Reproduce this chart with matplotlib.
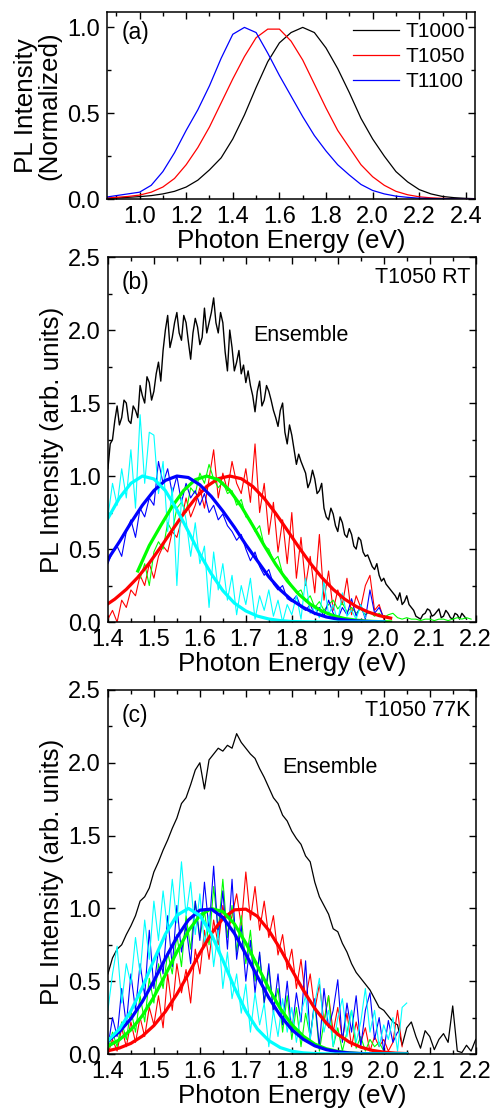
import numpy as np
import matplotlib
matplotlib.use('Agg')
import matplotlib.pyplot as plt
from matplotlib.ticker import MultipleLocator

plt.rcParams['font.family'] = 'Liberation Sans'

# ---- panel (a): normalized PL, sampled every 0.05 eV from 0.85 eV
a_start, a_step = 0.85, 0.05
a_t1000 = [0.003, 0.006, 0.01, 0.014, 0.02, 0.03, 0.045, 0.07, 0.11, 0.17, 0.24, 0.35, 0.49,
           0.65, 0.80, 0.91, 0.97, 1.0, 0.97, 0.88, 0.76, 0.62, 0.47, 0.35, 0.25, 0.16, 0.10,
           0.055, 0.03, 0.015, 0.008, 0.004, 0.002]
a_t1050 = [0.005, 0.01, 0.015, 0.023, 0.04, 0.07, 0.12, 0.20, 0.30, 0.42, 0.56, 0.70, 0.83,
           0.94, 0.99, 0.99, 0.92, 0.81, 0.67, 0.53, 0.40, 0.30, 0.20, 0.13, 0.08, 0.045, 0.025,
           0.013, 0.007, 0.004, 0.002, 0.001, 0.0]
a_t1100 = [0.01, 0.02, 0.03, 0.04, 0.08, 0.16, 0.27, 0.40, 0.52, 0.66, 0.82, 0.96, 1.0, 0.97,
           0.85, 0.72, 0.60, 0.48, 0.37, 0.28, 0.20, 0.14, 0.085, 0.05, 0.03, 0.017, 0.01,
           0.005, 0.003, 0.002, 0.001, 0.0, 0.0]
a_labels = ['T1000', 'T1050', 'T1100']

# ---- panel (b): T1050 RT
# ensemble sampled every 0.005 eV, single dots every 0.01 eV
b_black_start, b_black_step = 1.40, 0.005
b_black = [1.05, 1.22, 1.25, 1.38, 1.48, 1.35, 1.40, 1.52, 1.50, 1.38, 1.36, 1.48, 1.45, 1.40,
           1.62, 1.55, 1.50, 1.68, 1.64, 1.52, 1.58, 1.70, 1.78, 1.65, 1.86, 2.00, 2.10, 1.88,
           1.95, 2.05, 2.12, 1.98, 1.93, 2.10, 2.05, 1.92, 1.80, 1.98, 2.08, 2.02, 1.90, 1.95,
           2.15, 1.98, 2.05, 2.12, 2.22, 2.05, 1.98, 2.12, 2.05, 1.85, 1.72, 2.00, 1.88, 1.72,
           1.78, 1.86, 1.70, 1.76, 1.64, 1.72, 1.62, 1.55, 1.44, 1.58, 1.65, 1.48, 1.52, 1.62,
           1.58, 1.52, 1.45, 1.40, 1.34, 1.45, 1.50, 1.30, 1.22, 1.35, 1.28, 1.18, 1.08, 1.15,
           1.10, 1.06, 1.02, 0.92, 0.96, 1.04, 0.98, 0.88, 0.90, 0.95, 0.78, 0.72, 0.70, 0.78,
           0.74, 0.66, 0.62, 0.72, 0.68, 0.60, 0.58, 0.64, 0.60, 0.52, 0.50, 0.58, 0.56, 0.48,
           0.45, 0.46, 0.42, 0.38, 0.36, 0.40, 0.32, 0.28, 0.30, 0.26, 0.24, 0.22, 0.20, 0.18,
           0.15, 0.20, 0.12, 0.14, 0.18, 0.12, 0.10, 0.08, 0.04, 0.03, 0.02, 0.05, 0.06, 0.09,
           0.08, 0.04, 0.05, 0.07, 0.09, 0.03, 0.04, 0.08, 0.06, 0.03, 0.02, 0.06, 0.05, 0.02,
           0.06, 0.04, 0.02]
b_cyan_start = 1.40
b_cyan = [0.72, 0.95, 0.80, 1.05, 0.85, 1.18, 0.78, 1.42, 0.95, 1.30, 1.28, 0.88, 1.10, 0.62,
          0.92, 0.25, 0.85, 0.70, 0.45, 0.68, 0.40, 0.52, 0.10, 0.48, 0.22, 0.40, 0.15, 0.32,
          0.05, 0.25, 0.12, 0.30, 0.02, 0.18, 0.08, 0.22, 0.04, 0.15, 0.00, 0.12, 0.05, 0.18,
          0.02, 0.30, 0.06, 0.10, 0.03, 0.28, 0.05, 0.12, 0.00, 0.20, 0.04, 0.08, 0.02, 0.12,
          0.03]
b_blue_start = 1.40
b_blue = [0.40, 0.48, 0.52, 0.45, 0.62, 0.70, 0.58, 0.78, 0.72, 0.85, 0.80, 1.10, 0.95, 1.05,
          0.88, 1.00, 0.82, 0.95, 0.85, 0.90, 0.80, 0.88, 0.75, 0.80, 0.70, 0.74, 0.66, 0.62,
          0.56, 0.60, 0.50, 0.42, 0.48, 0.38, 0.32, 0.36, 0.26, 0.22, 0.25, 0.16, 0.14, 0.18,
          0.10, 0.08, 0.12, 0.05, 0.10, 0.04, 0.15, 0.06, 0.02, 0.10, 0.05, 0.16, 0.04, 0.12,
          0.02, 0.22, 0.06, 0.10, 0.03]
b_green_start = 1.47
b_green = [0.30, 0.40, 0.25, 0.48, 0.55, 0.50, 0.68, 0.62, 0.78, 0.82, 0.75, 0.92, 0.88, 1.02,
           0.95, 1.08, 0.98, 0.92, 0.96, 0.88, 0.90, 0.80, 0.84, 0.72, 0.70, 0.62, 0.66, 0.52,
           0.50, 0.42, 0.45, 0.33, 0.30, 0.25, 0.20, 0.22, 0.14, 0.18, 0.10, 0.14, 0.08, 0.12,
           0.15, 0.09, 0.13, 0.07, 0.10, 0.06, 0.09, 0.05, 0.07, 0.04, 0.06, 0.03, 0.05, 0.06,
           0.03, 0.02, 0.03, 0.02, 0.02, 0.01, 0.02, 0.02, 0.01, 0.02, 0.02, 0.01, 0.02, 0.03,
           0.02, 0.03, 0.02]
b_red_start = 1.40
b_red = [0.02, 0.08, 0.00, 0.15, 0.10, 0.22, 0.18, 0.32, 0.25, 0.40, 0.30, 0.45, 0.52, 0.48,
         0.62, 0.58, 0.70, 0.85, 0.72, 0.80, 0.92, 0.78, 0.98, 1.18, 0.85, 1.02, 0.90, 1.10,
         0.95, 0.88, 1.05, 0.82, 1.22, 0.75, 0.95, 0.60, 0.82, 0.48, 0.70, 0.40, 0.75, 0.30,
         0.58, 0.25, 0.45, 0.20, 0.60, 0.15, 0.35, 0.08, 0.22, 0.12, 0.30, 0.05, 0.18, 0.10,
         0.25, 0.32, 0.08, 0.12, 0.02]

# gaussian fits (b), read every 0.025 eV
b_fit_cyan_e = [1.40 + 0.025 * i for i in range(25)]
b_fit_cyan = [0.71, 0.85, 0.95, 1.0, 0.98, 0.90, 0.77, 0.62, 0.465, 0.33, 0.215, 0.13, 0.076,
              0.041, 0.021, 0.010, 0.004, 0.002, 0.001, 0, 0, 0, 0, 0, 0]
b_fit_blue_e = [1.40 + 0.025 * i for i in range(25)]
b_fit_blue = [0.43, 0.55, 0.68, 0.80, 0.90, 0.97, 1.0, 0.99, 0.94, 0.86, 0.76, 0.65, 0.53,
              0.42, 0.31, 0.22, 0.15, 0.10, 0.06, 0.035, 0.02, 0.011, 0.006, 0.003, 0.001]
b_fit_green_e = [1.465 + 0.025 * i for i in range(23)]
b_fit_green = [0.35, 0.524, 0.661, 0.793, 0.902, 0.975, 1.0, 0.975, 0.902, 0.793, 0.661, 0.524,
               0.395, 0.282, 0.191, 0.123, 0.076, 0.044, 0.024, 0.013, 0.006, 0.003, 0.001]
b_fit_red_e = [1.40] + [1.415 + 0.025 * i for i in range(25)]
b_fit_red = [0.125, 0.157, 0.224, 0.306, 0.404, 0.514, 0.630, 0.744, 0.847, 0.929, 0.982, 1.0,
             0.982, 0.929, 0.847, 0.744, 0.630, 0.514, 0.404, 0.306, 0.224, 0.157, 0.107,
             0.070, 0.044, 0.027]

# ---- panel (c): T1050 77K
c_black_start = 1.40
c_black = [0.55, 0.66, 0.72, 0.75, 0.82, 0.88, 0.95, 1.05, 1.08, 1.14, 1.25, 1.32, 1.40, 1.47,
           1.55, 1.62, 1.72, 1.76, 1.85, 1.95, 2.00, 1.82, 2.02, 2.06, 2.10, 2.08, 2.12, 2.10,
           2.20, 2.14, 2.10, 2.06, 2.03, 1.96, 1.90, 1.83, 1.76, 1.72, 1.64, 1.60, 1.53, 1.48,
           1.44, 1.36, 1.32, 1.18, 1.08, 1.02, 0.96, 0.86, 0.84, 0.76, 0.70, 0.62, 0.56, 0.52,
           0.48, 0.44, 0.38, 0.32, 0.30, 0.26, 0.22, 0.20, 0.06, 0.18, 0.22, 0.12, 0.04, 0.16,
           0.12, 0.03, 0.10, 0.14, 0.08, 0.33, 0.02, 0.01, 0.06, 0.02, 0.10]
c_cyan_start = 1.40
c_cyan = [0.30, 0.55, 0.74, 0.35, 0.62, 0.48, 0.80, 0.55, 0.92, 0.65, 1.05, 0.78, 1.12, 0.85,
          1.20, 0.90, 1.32, 0.95, 1.18, 0.82, 1.10, 0.75, 0.95, 0.60, 0.85, 0.45, 0.70, 0.38,
          0.55, 0.28, 0.48, 0.15, 0.42, 0.20, 0.35, 0.05, 0.30, 0.12, 0.38, 0.15, 0.32, 0.08,
          0.28, 0.40, 0.10, 0.35, 0.52, 0.15, 0.30, 0.05, 0.25, 0.38, 0.12, 0.30, 0.08, 0.22,
          0.45, 0.15, 0.30, 0.05, 0.20, 0.10, 0.25, 0.02, 0.32, 0.35]
c_blue_start = 1.40
c_blue = [0.05, 0.25, 0.12, 0.45, 0.20, 0.55, 0.30, 0.62, 0.40, 0.85, 0.45, 0.72, 0.55, 0.95,
          0.60, 1.02, 0.70, 0.88, 0.62, 1.05, 0.78, 1.18, 0.85, 1.29, 0.80, 1.12, 0.72, 1.20,
          0.65, 0.88, 0.50, 0.78, 0.42, 0.70, 0.35, 0.62, 0.28, 0.55, 0.20, 0.50, 0.15, 0.42,
          0.22, 0.64, 0.10, 0.38, 0.05, 0.45, 0.18, 0.30, 0.51, 0.08, 0.35, 0.15, 0.40, 0.05,
          0.30, 0.42, 0.10, 0.25, 0.02, 0.23, 0.08, 0.15]
c_green_start = 1.40
c_green = [0.02, 0.15, 0.05, 0.22, 0.10, 0.30, 0.15, 0.40, 0.22, 0.52, 0.35, 0.62, 0.45, 0.70,
           0.55, 0.82, 0.60, 0.95, 0.72, 1.05, 0.80, 0.98, 0.75, 1.15, 0.85, 1.20, 0.80, 1.02,
           0.70, 0.95, 0.62, 0.85, 0.50, 0.68, 0.35, 0.58, 0.30, 0.45, 0.15, 0.40, 0.10, 0.32,
           0.05, 0.28, 0.12, 0.35, 0.02, 0.22, 0.40, 0.05, 0.18, 0.02, 0.15, 0.30, 0.04, 0.12,
           0.02, 0.10, 0.05, 0.08, 0.02]
c_red_start = 1.40
c_red = [0.00, 0.10, 0.02, 0.18, 0.05, 0.22, 0.08, 0.25, 0.12, 0.32, 0.20, 0.40, 0.18, 0.55,
         0.30, 0.62, 0.42, 0.58, 0.35, 0.72, 0.55, 0.85, 0.65, 0.92, 0.75, 1.02, 0.82, 0.95,
         1.10, 0.88, 1.25, 0.92, 1.15, 0.85, 1.05, 0.80, 0.95, 0.68, 0.82, 0.58, 0.72, 0.45,
         0.65, 0.38, 0.55, 0.30, 0.48, 0.22, 0.40, 0.15, 0.32, 0.10, 0.28, 0.05, 0.22, 0.08,
         0.18, 0.02, 0.12, 0.05, 0.10, 0.02, 0.08, 0.30, 0.05]

c_fit_e = [1.40 + 0.025 * i for i in range(27)]
c_fit_cyan = [0.092, 0.172, 0.295, 0.458, 0.644, 0.823, 0.952, 1.0, 0.952, 0.823, 0.644, 0.458,
              0.295, 0.172, 0.092, 0.044, 0.019, 0.008, 0.003, 0.001, 0, 0, 0, 0, 0, 0, 0]
c_fit_blue = [0.090, 0.153, 0.242, 0.360, 0.502, 0.656, 0.802, 0.920, 0.988, 0.995, 0.938,
              0.829, 0.686, 0.533, 0.387, 0.264, 0.168, 0.101, 0.056, 0.030, 0.015, 0.007,
              0.003, 0.001, 0, 0, 0]
c_fit_green = [0.053, 0.098, 0.166, 0.264, 0.392, 0.543, 0.701, 0.846, 0.951, 0.999, 0.978,
               0.894, 0.762, 0.607, 0.450, 0.312, 0.202, 0.122, 0.068, 0.036, 0.018, 0.008,
               0.003, 0.001, 0, 0, 0]
c_fit_red = [0.022, 0.041, 0.073, 0.123, 0.195, 0.291, 0.411, 0.549, 0.693, 0.826, 0.930,
             0.990, 0.995, 0.946, 0.849, 0.721, 0.578, 0.438, 0.313, 0.212, 0.135, 0.082,
             0.047, 0.025, 0.013, 0.006, 0.003]


def grid(start, step, vals):
    return start + step * np.arange(len(vals))


CYAN, BLUE, GREEN, RED = '#00ffff', '#0000ff', '#00ff00', '#ff0000'
TICK_FS, LABEL_FS = 17, 18.7


def style(ax):
    ax.tick_params(which='both', direction='in', top=True, right=True,
                   labelsize=TICK_FS, width=1.0, pad=5)
    ax.tick_params(which='major', length=5)
    ax.tick_params(which='minor', length=3)
    for s in ax.spines.values():
        s.set_linewidth(1.1)


fig = plt.figure(figsize=(4.95, 11.17), dpi=100)

# (a)
ax1 = fig.add_axes([0.216, 0.8218, 0.744, 0.1675])
ea = grid(a_start, a_step, a_t1000)
ax1.plot(ea, a_t1000, color='black', lw=0.9, label=a_labels[0])
ax1.plot(ea, a_t1050, color=RED, lw=0.9, label=a_labels[1])
ax1.plot(ea, a_t1100, color=BLUE, lw=0.9, label=a_labels[2])
ax1.set_xlim(0.86, 2.44)
ax1.set_ylim(0, 1.09)
ax1.xaxis.set_major_locator(MultipleLocator(0.2))
ax1.xaxis.set_minor_locator(MultipleLocator(0.1))
ax1.yaxis.set_major_locator(MultipleLocator(0.5))
ax1.yaxis.set_minor_locator(MultipleLocator(0.25))
style(ax1)
ax1.set_xlabel('Photon Energy (eV)', fontsize=LABEL_FS, labelpad=1)
ax1.set_ylabel('PL Intensity\n(Normalized)', fontsize=LABEL_FS, labelpad=4, linespacing=1.0)
ax1.legend(loc='upper right', frameon=False, fontsize=15, handlelength=2.2,
           handletextpad=0.3, labelspacing=0.28, borderaxespad=0.3, borderpad=0.2)
ax1.text(0.04, 0.89, '(a)', transform=ax1.transAxes, fontsize=16.5, va='center', ha='left')


def spectrum_panel(ax, data, fits, tag, cond):
    for start, step, vals, col, lw in data:
        ax.plot(grid(start, step, vals), vals, color=col, lw=lw)
    for xs, vals, col in fits:
        ax.plot(xs, vals, color=col, lw=2.3)
    ax.set_xlim(1.4, 2.2)
    ax.set_ylim(0, 2.5)
    ax.xaxis.set_major_locator(MultipleLocator(0.1))
    ax.xaxis.set_minor_locator(MultipleLocator(0.05))
    ax.yaxis.set_major_locator(MultipleLocator(0.5))
    ax.yaxis.set_minor_locator(MultipleLocator(0.25))
    style(ax)
    ax.set_xlabel('Photon Energy (eV)', fontsize=LABEL_FS, labelpad=1)
    ax.set_ylabel('PL Intensity (arb. units)', fontsize=LABEL_FS, labelpad=3)
    ax.text(0.038, 0.93, tag, transform=ax.transAxes, fontsize=16.5, va='center', ha='left')
    ax.text(0.985, 0.943, cond, transform=ax.transAxes, fontsize=15.5, va='center', ha='right')


# (b)
ax2 = fig.add_axes([0.218, 0.4431, 0.743, 0.3268])
spectrum_panel(ax2,
               [(b_black_start, b_black_step, b_black, 'black', 1.0),
                (b_red_start, 0.01, b_red, RED, 0.8),
                (b_green_start, 0.01, b_green, GREEN, 0.8),
                (b_blue_start, 0.01, b_blue, BLUE, 0.8),
                (b_cyan_start, 0.01, b_cyan, CYAN, 0.8)],
               [(b_fit_red_e, b_fit_red, RED), (b_fit_green_e, b_fit_green, GREEN),
                (b_fit_blue_e, b_fit_blue, BLUE), (b_fit_cyan_e, b_fit_cyan, CYAN)],
               '(b)', 'T1050 RT')
ax2.text(0.394, 0.786, 'Ensemble', transform=ax2.transAxes, fontsize=15.5, va='center', ha='left')

# (c)
ax3 = fig.add_axes([0.218, 0.0564, 0.743, 0.3259])
spectrum_panel(ax3,
               [(c_black_start, 0.01, c_black, 'black', 0.9),
                (c_red_start, 0.01, c_red, RED, 0.8),
                (c_green_start, 0.01, c_green, GREEN, 0.8),
                (c_blue_start, 0.01, c_blue, BLUE, 0.8),
                (c_cyan_start, 0.01, c_cyan, CYAN, 0.8)],
               [(c_fit_e, c_fit_red, RED), (c_fit_e, c_fit_green, GREEN),
                (c_fit_e, c_fit_blue, BLUE), (c_fit_e, c_fit_cyan, CYAN)],
               '(c)', 'T1050 77K')
ax3.text(0.473, 0.786, 'Ensemble', transform=ax3.transAxes, fontsize=15.5, va='center', ha='left')

fig.savefig('out.png', dpi=100)
